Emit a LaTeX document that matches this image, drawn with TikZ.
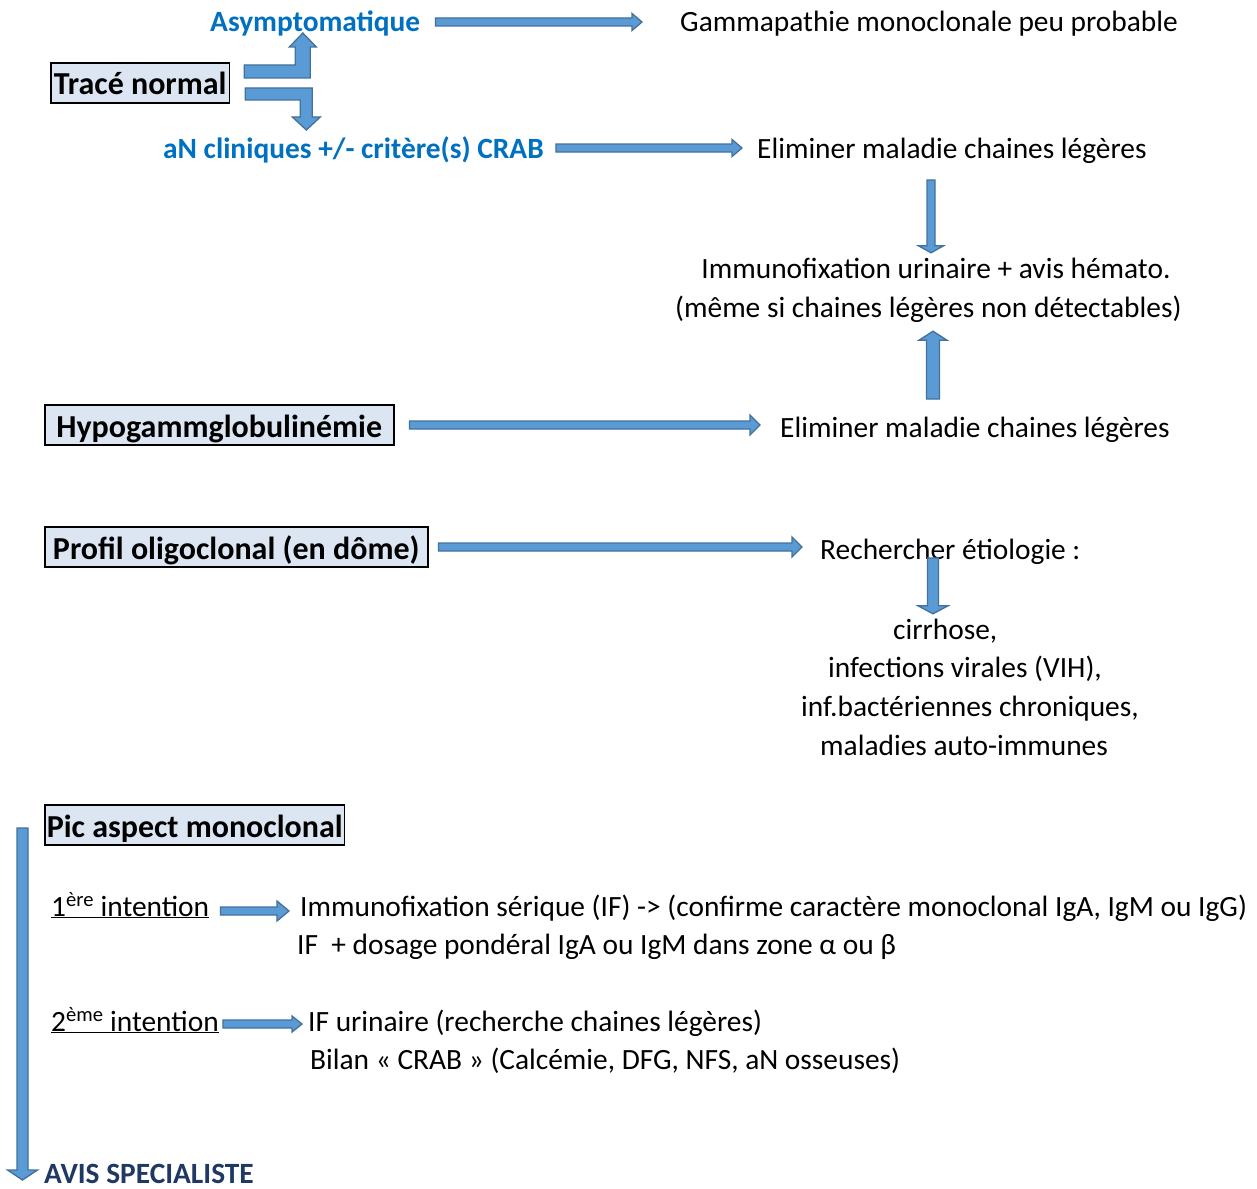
\documentclass[tikz,border=0pt]{standalone}
\usepackage{fontspec}
\setmainfont{Carlito}
\usetikzlibrary{calc}
\definecolor{afill}{HTML}{5B9BD5}
\definecolor{aborder}{HTML}{41719C}
\definecolor{boxfill}{HTML}{DCE6F2}
\definecolor{tblue}{HTML}{0070C0}
\definecolor{tnavy}{HTML}{1F3864}
\tikzset{
 txt/.style={anchor=west, inner sep=0pt, text height=26pt, text depth=6pt, font=\fontsize{29.4}{35}\selectfont},
 btxt/.style={txt, font=\fontsize{29.4}{35}\selectfont\bfseries, text=tblue},
 boxn/.style={anchor=west, draw=black, line width=1.5pt, fill=boxfill, inner xsep=3pt, inner ysep=0pt, minimum height=40pt, text height=28pt, text depth=4pt, font=\fontsize{32}{38}\selectfont\bfseries},
 barrow/.style={draw=aborder, fill=afill, line width=1.3pt, line join=miter},
}
% right block arrow: start, end, shaft half, head half, head length
\newcommand\blockR[5]{\path[barrow] let \p1=#1, \p2=#2 in (\x1,\y1+#3) -- (\x2-#5,\y1+#3) -- (\x2-#5,\y1+#4) -- (\x2,\y1) -- (\x2-#5,\y1-#4) -- (\x2-#5,\y1-#3) -- (\x1,\y1-#3) -- cycle;}
\newcommand\blockD[5]{\path[barrow] let \p1=#1, \p2=#2 in (\x1-#3,\y1) -- (\x1-#3,\y2+#5) -- (\x1-#4,\y2+#5) -- (\x1,\y2) -- (\x1+#4,\y2+#5) -- (\x1+#3,\y2+#5) -- (\x1+#3,\y1) -- cycle;}
\newcommand\blockU[5]{\path[barrow] let \p1=#1, \p2=#2 in (\x1-#3,\y1) -- (\x1-#3,\y2-#5) -- (\x1-#4,\y2-#5) -- (\x1,\y2) -- (\x1+#4,\y2-#5) -- (\x1+#3,\y2-#5) -- (\x1+#3,\y1) -- cycle;}
\begin{document}
\begin{tikzpicture}[x=1pt,y=-1pt]
\useasboundingbox (0,0) rectangle (1257,1188);
% nodes
\node[btxt] (asym) at (210,22) {Asymptomatique};
\node[txt] (gam) at (680,22) {Gammapathie monoclonale peu probable};
\node[boxn, minimum width=178pt] (trace) at (50,83) {Tracé normal};
\node[btxt] (acl) at (163,148) {aN cliniques +/- critère(s) CRAB};
\node[txt] (elim1) at (757,148) {Eliminer maladie chaines légères};
\node[txt, anchor=center] (immu) at (936,268) {Immunofixation urinaire + avis hémato.};
\node[txt] (meme) at (675,307) {(même si chaines légères non détectables)};
\node[boxn, minimum width=349pt] (hypo) at (44,425) {Hypogammglobulinémie};
\node[txt] (elim2) at (780,427) {Eliminer maladie chaines légères};
\node[boxn, minimum width=383pt] (profil) at (44,547) {Profil oligoclonal (en dôme)};
\node[txt] (rech) at (820,549) {Rechercher étiologie :};
\node[txt] (cirr) at (893,629) {cirrhose,};
\node[txt] (infv) at (828,667) {infections virales (VIH),};
\node[txt] (infb) at (801,706) {inf.bactériennes chroniques,};
\node[txt] (malad) at (820,745) {maladies auto-immunes};
\node[boxn, minimum width=298pt, inner xsep=2pt] (pic) at (44,825) {Pic aspect monoclonal};
\node[txt] (int1) at (51,906) {\underline{1\textsuperscript{ère} intention}};
\node[txt] (ifs) at (300,906) {Immunofixation sérique (IF) -> (confirme caractère monoclonal IgA, IgM ou IgG)};
\node[txt] (ifd) at (297,944) {IF~ + dosage pondéral IgA ou IgM dans zone α ou β};
\node[txt] (int2) at (51,1021) {\underline{2\textsuperscript{ème} intention}};
\node[txt] (ifu) at (308,1021) {IF urinaire (recherche chaines légères)};
\node[txt] (bilan) at (310,1059) {Bilan « CRAB » (Calcémie, DFG, NFS, aN osseuses)};
\node[btxt, text=tnavy, text depth=0pt] (avis) at (44,1170) {AVIS SPECIALISTE};
% free ends
\coordinate (c3) at (931,180);
\coordinate (c4) at (933,399);
\coordinate (c7) at (933,558);
\coordinate (c10) at (22.5,828);
% bent arrows from Tracé normal
\begin{scope}[shift={(trace.east)}]
\path[barrow] (14,-18) -- (65,-18) -- (65,-36) -- (59,-36) -- (72.5,-50) -- (86,-36) -- (80,-36) -- (80,-5) -- (14,-5) -- cycle;
\path[barrow] (15,5) -- (82,5) -- (82,34) -- (90,34) -- (76,47) -- (62,34) -- (70,34) -- (70,17) -- (15,17) -- cycle;
\end{scope}
% straight arrows
\blockR{([xshift=15pt]asym.east)}{([xshift=-38pt]gam.west)}{4pt}{8.5pt}{10pt}
\blockR{([xshift=12pt]acl.east)}{([xshift=-15pt]elim1.west)}{4pt}{8.5pt}{10pt}
\blockD{(c3)}{([yshift=-1pt]immu.north)}{4pt}{12.5pt}{7pt}
\blockU{(c4)}{([yshift=-8pt]meme.south)}{6.5pt}{14pt}{9pt}
\blockR{([xshift=15pt]hypo.east)}{([xshift=-20pt]elim2.west)}{4pt}{10pt}{10pt}
\blockR{([xshift=10pt]profil.east)}{([xshift=-18pt]rech.west)}{4pt}{10pt}{10pt}
\blockD{(c7)}{([yshift=-1pt]cirr.north)}{5.5pt}{15pt}{8pt}
\blockR{([shift={(11pt,-5pt)}]int1.east)}{([xshift=-11pt]ifs.west)}{4pt}{10pt}{12pt}
\blockR{([shift={(4pt,-3pt)}]int2.east)}{([xshift=-6pt]ifu.west)}{4pt}{8pt}{10pt}
\blockD{(c10)}{([yshift=-10pt]avis.west)}{5.5pt}{15pt}{10pt}
\end{tikzpicture}
\end{document}
